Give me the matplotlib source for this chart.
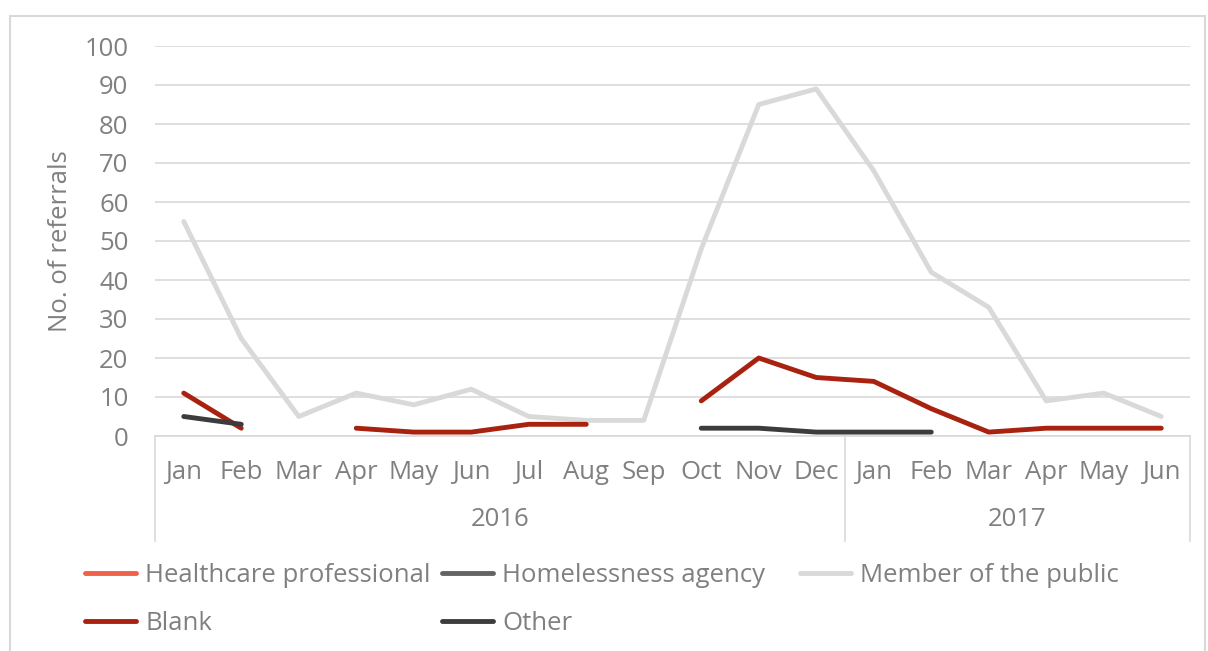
import numpy as np
import matplotlib.pyplot as plt
from matplotlib.patches import Rectangle
import matplotlib.transforms as mtransforms

plt.rcParams['font.family'] = ['Open Sans', 'DejaVu Sans']

# data (nan = no value)
months = ["Jan", "Feb", "Mar", "Apr", "May", "Jun", "Jul", "Aug", "Sep",
          "Oct", "Nov", "Dec", "Jan", "Feb", "Mar", "Apr", "May", "Jun"]
years = ["2016", "2017"]
year_counts = [12, 6]
nan = np.nan
healthcare = [nan] * 18
homelessness = [nan] * 18
public = [55, 25, 5, 11, 8, 12, 5, 4, 4, 48, 85, 89, 68, 42, 33, 9, 11, 5]
blank = [11, 2, nan, 2, 1, 1, 3, 3, nan, 9, 20, 15, 14, 7, 1, 2, 2, 2]
other = [5, 3, nan, nan, nan, nan, nan, nan, nan, 2, 2, 1, 1, 1, nan, nan, nan, nan]

txt = "#808080"
grid = "#d9d9d9"
fs = 18.5

fig = plt.figure(figsize=(12.08, 6.51), dpi=100)
ax = fig.add_axes([155/1208, 215/651, 1035/1208, 390/651])

x = np.arange(len(months))
lw = 3.5
l_hc, = ax.plot(x, healthcare, color="#f0614a", lw=lw, solid_capstyle="round")
l_ha, = ax.plot(x, homelessness, color="#636466", lw=lw, solid_capstyle="round")
l_mp, = ax.plot(x, public, color="#d9d9d9", lw=lw, solid_capstyle="round", zorder=2)
l_bl, = ax.plot(x, blank, color="#a8220f", lw=lw, solid_capstyle="round", zorder=3)
l_ot, = ax.plot(x, other, color="#3c3c3c", lw=lw, solid_capstyle="round", zorder=4)

ax.set_xlim(-0.5, len(months) - 0.5)
ax.set_ylim(0, 100)
ax.set_yticks(np.arange(0, 101, 10))
ax.yaxis.grid(True, color=grid, lw=1.2)
ax.set_axisbelow(True)
for s in ["top", "right", "left"]:
    ax.spines[s].set_visible(False)
ax.spines["bottom"].set_color(grid)
ax.spines["bottom"].set_linewidth(1.2)
ax.tick_params(axis="y", length=0, pad=19, labelsize=fs, labelcolor=txt)
ax.set_xticks(x)
ax.set_xticklabels(months)
ax.tick_params(axis="x", length=0, pad=17, labelsize=fs, labelcolor=txt)
ax.set_ylabel("No. of referrals", fontsize=fs, color=txt, labelpad=8)

# year group labels and separators below the month labels
trans = mtransforms.blended_transform_factory(ax.transData, ax.transAxes)
edges = np.concatenate([[0], np.cumsum(year_counts)]) - 0.5
for e in edges:
    ax.plot([e, e], [0, -0.268], transform=trans, color=grid, lw=1.2, clip_on=False)
for i, yr in enumerate(years):
    ax.text((edges[i] + edges[i + 1]) / 2, -0.215, yr, transform=trans,
            ha="center", va="center", fontsize=fs, color=txt)

# legend, three columns laid out like the original
cols = [([l_hc, l_bl], ["Healthcare professional", "Blank"], 85),
        ([l_ha, l_ot], ["Homelessness agency", "Other"], 442),
        ([l_mp], ["Member of the public"], 800)]
for hs, ls, px in cols:
    fig.legend(hs, ls, loc="upper left", bbox_to_anchor=(px/1208, 1 - 563/651),
               frameon=False, fontsize=fs, labelcolor=txt, handlelength=2.0,
               handletextpad=0.35, labelspacing=0.9, borderaxespad=0,
               borderpad=0)

fig.patches.append(Rectangle((10/1208, -0.05), 1195/1208, 1 - 16/651 + 0.05,
                             transform=fig.transFigure, fill=False,
                             edgecolor=grid, lw=1.5))

fig.savefig("out.png", dpi=100)
